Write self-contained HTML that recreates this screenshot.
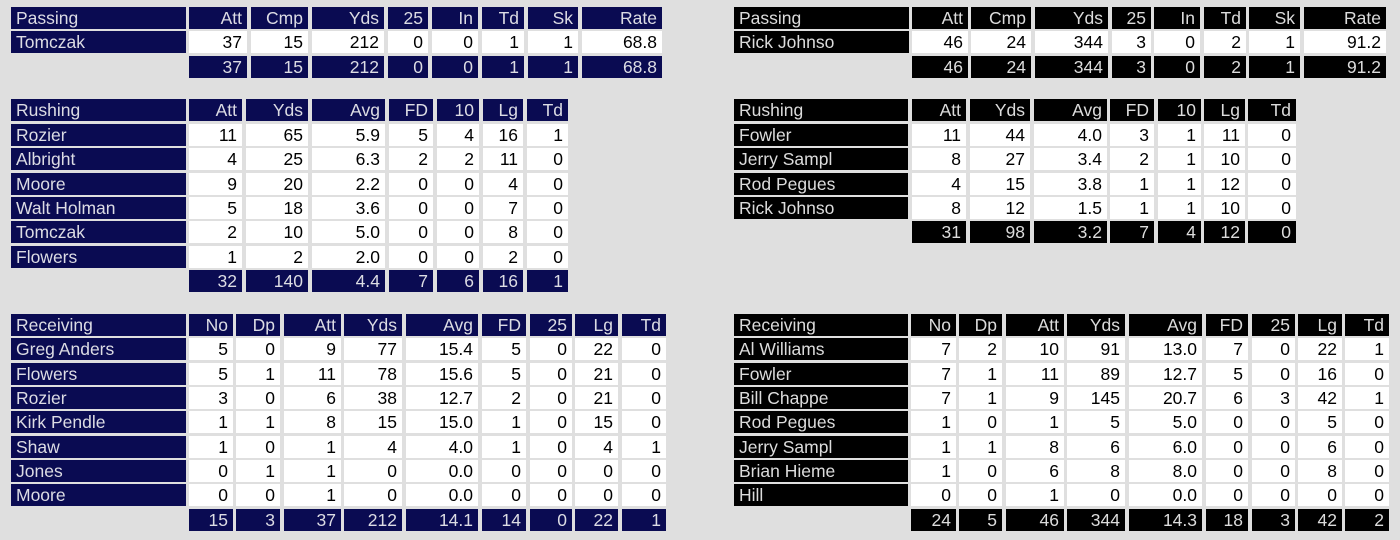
<!DOCTYPE html>
<html><head><meta charset="utf-8">
<style>
html,body{margin:0;padding:0;}
body{width:1400px;height:540px;background:#dfdfdf;position:relative;overflow:hidden;font-family:"Liberation Sans",Arial,sans-serif;}
.r{position:absolute;left:0;width:1400px;height:22px;}
.r span{position:absolute;top:0;height:22px;line-height:22px;font-size:17.5px;padding-right:5px;box-sizing:border-box;text-align:right;background:#fff;color:#000;white-space:nowrap;overflow:hidden;}
.r span:first-child{text-align:left;padding-left:5px;padding-right:0;}
.L .r span:first-child,.L .h span,.L .t span{background:#0a0b52;color:#dcdce4;}
.R .r span:first-child,.R .h span,.R .t span{background:#000;color:#dcdcdc;}
.r.t span:first-child{visibility:hidden;}

.lp span:nth-child(1){left:11px;width:175px}
.lp span:nth-child(2){left:189px;width:58px}
.lp span:nth-child(3){left:251px;width:57px}
.lp span:nth-child(4){left:312px;width:72px}
.lp span:nth-child(5){left:388px;width:40px}
.lp span:nth-child(6){left:432px;width:46px}
.lp span:nth-child(7){left:482px;width:42px}
.lp span:nth-child(8){left:528px;width:50px}
.lp span:nth-child(9){left:582px;width:80px}

.lr span:nth-child(1){left:11px;width:175px}
.lr span:nth-child(2){left:189px;width:53px}
.lr span:nth-child(3){left:246px;width:62px}
.lr span:nth-child(4){left:312px;width:73px}
.lr span:nth-child(5){left:389px;width:44px}
.lr span:nth-child(6){left:437px;width:42px}
.lr span:nth-child(7){left:483px;width:40px}
.lr span:nth-child(8){left:527px;width:41px}

.lc span:nth-child(1){left:11px;width:175px}
.lc span:nth-child(2){left:189px;width:44px}
.lc span:nth-child(3){left:236px;width:44px}
.lc span:nth-child(4){left:284px;width:57px}
.lc span:nth-child(5){left:344px;width:58px}
.lc span:nth-child(6){left:406px;width:72px}
.lc span:nth-child(7){left:482px;width:44px}
.lc span:nth-child(8){left:530px;width:42px}
.lc span:nth-child(9){left:575px;width:43px}
.lc span:nth-child(10){left:622px;width:44px}

.rp span:nth-child(1){left:734px;width:175px}
.rp span:nth-child(2){left:912px;width:56px}
.rp span:nth-child(3){left:971px;width:60px}
.rp span:nth-child(4){left:1035px;width:73px}
.rp span:nth-child(5){left:1112px;width:39px}
.rp span:nth-child(6){left:1154px;width:46px}
.rp span:nth-child(7){left:1204px;width:42px}
.rp span:nth-child(8){left:1249px;width:51px}
.rp span:nth-child(9){left:1304px;width:82px}

.rr span:nth-child(1){left:734px;width:174px}
.rr span:nth-child(2){left:912px;width:54px}
.rr span:nth-child(3){left:970px;width:60px}
.rr span:nth-child(4){left:1034px;width:73px}
.rr span:nth-child(5){left:1110px;width:44px}
.rr span:nth-child(6){left:1158px;width:43px}
.rr span:nth-child(7){left:1204px;width:41px}
.rr span:nth-child(8){left:1248px;width:48px}

.rc span:nth-child(1){left:734px;width:174px}
.rc span:nth-child(2){left:911px;width:45px}
.rc span:nth-child(3){left:959px;width:43px}
.rc span:nth-child(4){left:1006px;width:58px}
.rc span:nth-child(5){left:1067px;width:58px}
.rc span:nth-child(6){left:1129px;width:73px}
.rc span:nth-child(7){left:1206px;width:42px}
.rc span:nth-child(8){left:1252px;width:43px}
.rc span:nth-child(9){left:1298px;width:44px}
.rc span:nth-child(10){left:1345px;width:44px}
</style></head>
<body>

<div class="L lp">
<div class="r h" style="top:7px"><span>Passing</span><span>Att</span><span>Cmp</span><span>Yds</span><span>25</span><span>In</span><span>Td</span><span>Sk</span><span>Rate</span></div>
<div class="r" style="top:31.4px"><span>Tomczak</span><span>37</span><span>15</span><span>212</span><span>0</span><span>0</span><span>1</span><span>1</span><span>68.8</span></div>
<div class="r t" style="top:55.8px"><span></span><span>37</span><span>15</span><span>212</span><span>0</span><span>0</span><span>1</span><span>1</span><span>68.8</span></div>
</div>

<div class="L lr">
<div class="r h" style="top:99.3px"><span>Rushing</span><span>Att</span><span>Yds</span><span>Avg</span><span>FD</span><span>10</span><span>Lg</span><span>Td</span></div>
<div class="r" style="top:123.7px"><span>Rozier</span><span>11</span><span>65</span><span>5.9</span><span>5</span><span>4</span><span>16</span><span>1</span></div>
<div class="r" style="top:148.1px"><span>Albright</span><span>4</span><span>25</span><span>6.3</span><span>2</span><span>2</span><span>11</span><span>0</span></div>
<div class="r" style="top:172.5px"><span>Moore</span><span>9</span><span>20</span><span>2.2</span><span>0</span><span>0</span><span>4</span><span>0</span></div>
<div class="r" style="top:196.9px"><span>Walt Holman</span><span>5</span><span>18</span><span>3.6</span><span>0</span><span>0</span><span>7</span><span>0</span></div>
<div class="r" style="top:221.3px"><span>Tomczak</span><span>2</span><span>10</span><span>5.0</span><span>0</span><span>0</span><span>8</span><span>0</span></div>
<div class="r" style="top:245.7px"><span>Flowers</span><span>1</span><span>2</span><span>2.0</span><span>0</span><span>0</span><span>2</span><span>0</span></div>
<div class="r t" style="top:270.1px"><span></span><span>32</span><span>140</span><span>4.4</span><span>7</span><span>6</span><span>16</span><span>1</span></div>
</div>

<div class="L lc">
<div class="r h" style="top:314px"><span>Receiving</span><span>No</span><span>Dp</span><span>Att</span><span>Yds</span><span>Avg</span><span>FD</span><span>25</span><span>Lg</span><span>Td</span></div>
<div class="r" style="top:338.35px"><span>Greg Anders</span><span>5</span><span>0</span><span>9</span><span>77</span><span>15.4</span><span>5</span><span>0</span><span>22</span><span>0</span></div>
<div class="r" style="top:362.7px"><span>Flowers</span><span>5</span><span>1</span><span>11</span><span>78</span><span>15.6</span><span>5</span><span>0</span><span>21</span><span>0</span></div>
<div class="r" style="top:387.05px"><span>Rozier</span><span>3</span><span>0</span><span>6</span><span>38</span><span>12.7</span><span>2</span><span>0</span><span>21</span><span>0</span></div>
<div class="r" style="top:411.4px"><span>Kirk Pendle</span><span>1</span><span>1</span><span>8</span><span>15</span><span>15.0</span><span>1</span><span>0</span><span>15</span><span>0</span></div>
<div class="r" style="top:435.75px"><span>Shaw</span><span>1</span><span>0</span><span>1</span><span>4</span><span>4.0</span><span>1</span><span>0</span><span>4</span><span>1</span></div>
<div class="r" style="top:460.1px"><span>Jones</span><span>0</span><span>1</span><span>1</span><span>0</span><span>0.0</span><span>0</span><span>0</span><span>0</span><span>0</span></div>
<div class="r" style="top:484.45px"><span>Moore</span><span>0</span><span>0</span><span>1</span><span>0</span><span>0.0</span><span>0</span><span>0</span><span>0</span><span>0</span></div>
<div class="r t" style="top:508.8px"><span></span><span>15</span><span>3</span><span>37</span><span>212</span><span>14.1</span><span>14</span><span>0</span><span>22</span><span>1</span></div>
</div>

<div class="R rp">
<div class="r h" style="top:7px"><span>Passing</span><span>Att</span><span>Cmp</span><span>Yds</span><span>25</span><span>In</span><span>Td</span><span>Sk</span><span>Rate</span></div>
<div class="r" style="top:31.4px"><span>Rick Johnso</span><span>46</span><span>24</span><span>344</span><span>3</span><span>0</span><span>2</span><span>1</span><span>91.2</span></div>
<div class="r t" style="top:55.8px"><span></span><span>46</span><span>24</span><span>344</span><span>3</span><span>0</span><span>2</span><span>1</span><span>91.2</span></div>
</div>

<div class="R rr">
<div class="r h" style="top:99.3px"><span>Rushing</span><span>Att</span><span>Yds</span><span>Avg</span><span>FD</span><span>10</span><span>Lg</span><span>Td</span></div>
<div class="r" style="top:123.7px"><span>Fowler</span><span>11</span><span>44</span><span>4.0</span><span>3</span><span>1</span><span>11</span><span>0</span></div>
<div class="r" style="top:148.1px"><span>Jerry Sampl</span><span>8</span><span>27</span><span>3.4</span><span>2</span><span>1</span><span>10</span><span>0</span></div>
<div class="r" style="top:172.5px"><span>Rod Pegues</span><span>4</span><span>15</span><span>3.8</span><span>1</span><span>1</span><span>12</span><span>0</span></div>
<div class="r" style="top:196.9px"><span>Rick Johnso</span><span>8</span><span>12</span><span>1.5</span><span>1</span><span>1</span><span>10</span><span>0</span></div>
<div class="r t" style="top:221.3px"><span></span><span>31</span><span>98</span><span>3.2</span><span>7</span><span>4</span><span>12</span><span>0</span></div>
</div>

<div class="R rc">
<div class="r h" style="top:314px"><span>Receiving</span><span>No</span><span>Dp</span><span>Att</span><span>Yds</span><span>Avg</span><span>FD</span><span>25</span><span>Lg</span><span>Td</span></div>
<div class="r" style="top:338.35px"><span>Al Williams</span><span>7</span><span>2</span><span>10</span><span>91</span><span>13.0</span><span>7</span><span>0</span><span>22</span><span>1</span></div>
<div class="r" style="top:362.7px"><span>Fowler</span><span>7</span><span>1</span><span>11</span><span>89</span><span>12.7</span><span>5</span><span>0</span><span>16</span><span>0</span></div>
<div class="r" style="top:387.05px"><span>Bill Chappe</span><span>7</span><span>1</span><span>9</span><span>145</span><span>20.7</span><span>6</span><span>3</span><span>42</span><span>1</span></div>
<div class="r" style="top:411.4px"><span>Rod Pegues</span><span>1</span><span>0</span><span>1</span><span>5</span><span>5.0</span><span>0</span><span>0</span><span>5</span><span>0</span></div>
<div class="r" style="top:435.75px"><span>Jerry Sampl</span><span>1</span><span>1</span><span>8</span><span>6</span><span>6.0</span><span>0</span><span>0</span><span>6</span><span>0</span></div>
<div class="r" style="top:460.1px"><span>Brian Hieme</span><span>1</span><span>0</span><span>6</span><span>8</span><span>8.0</span><span>0</span><span>0</span><span>8</span><span>0</span></div>
<div class="r" style="top:484.45px"><span>Hill</span><span>0</span><span>0</span><span>1</span><span>0</span><span>0.0</span><span>0</span><span>0</span><span>0</span><span>0</span></div>
<div class="r t" style="top:508.8px"><span></span><span>24</span><span>5</span><span>46</span><span>344</span><span>14.3</span><span>18</span><span>3</span><span>42</span><span>2</span></div>
</div>

</body></html>
